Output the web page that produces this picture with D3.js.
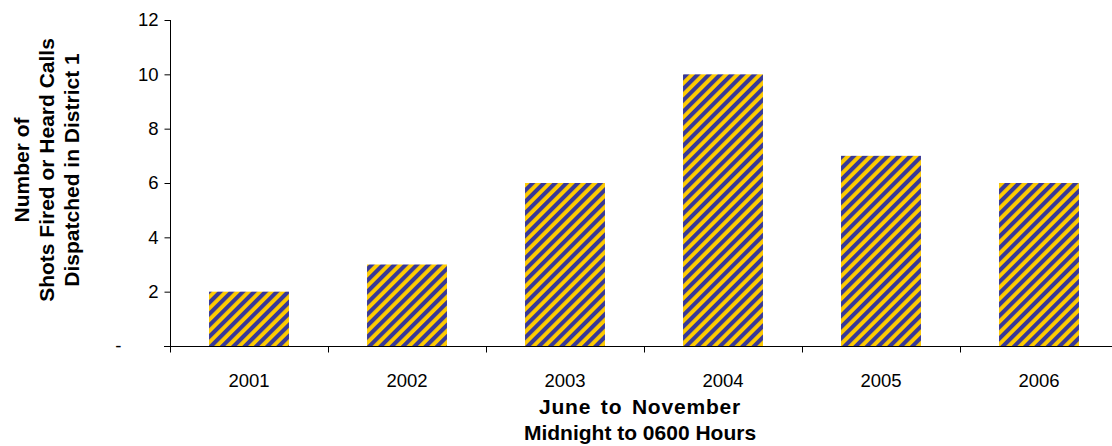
<!DOCTYPE html>
<html>
<head>
<meta charset="utf-8">
<script src="https://cdn.jsdelivr.net/npm/d3@7"></script>
<style>
  html, body { margin: 0; padding: 0; background: #fff; }
  svg { display: block; font-family: "Liberation Sans", Arial, sans-serif; }
</style>
</head>
<body>
<svg id="chart" width="1112" height="446"></svg>
<script>
const years = ["2001", "2002", "2003", "2004", "2005", "2006"];
const calls = [2, 3, 6, 10, 7, 6];
const yTicks = [0, 2, 4, 6, 8, 10, 12];
const yTickLabels = ["-", "2", "4", "6", "8", "10", "12"];
const yTitleLines = ["Number of", "Shots Fired or Heard Calls", "Dispatched in District 1"];
const xTitleLines = ["June to November", "Midnight to 0600 Hours"];

(function () {
const svg = d3.select("#chart");
const mLeft = 170, mRight = 1118, mTop = 20, mBottom = 346;

const x = d3.scaleBand().domain(years).range([mLeft, mRight]).paddingInner(0.494).paddingOuter(0.247);
const y = d3.scaleLinear().domain([0, 12]).range([mBottom, mTop]);

// stripe pattern
const defs = svg.append("defs");
const pat = defs.append("pattern")
  .attr("id", "stripes")
  .attr("patternUnits", "userSpaceOnUse")
  .attr("width", 8).attr("height", 8)
  .attr("patternTransform", "rotate(45)");
pat.append("rect").attr("width", 8).attr("height", 8).attr("fill", "#FFCC00");
pat.append("rect").attr("x", 0).attr("width", 4.1).attr("height", 8).attr("fill", "#383898");

// bars
svg.append("g").selectAll("rect").data(years).join("rect")
  .attr("x", d => x(d))
  .attr("y", (d, i) => y(calls[i]))
  .attr("width", x.bandwidth())
  .attr("height", (d, i) => y(0) - y(calls[i]))
  .attr("fill", "url(#stripes)");

// y axis
const yAxis = d3.axisLeft(y).tickValues(yTicks).tickSize(6).tickPadding(6)
  .tickFormat((d, i) => yTickLabels[i]);
const gy = svg.append("g").attr("transform", `translate(${mLeft + 0.5},0)`).call(yAxis);
gy.select(".domain").attr("stroke", "#000").attr("d", `M0,${mTop}V${mBottom}`);
gy.selectAll(".tick line").attr("stroke", "#000");
gy.selectAll(".tick text")
  .attr("font-size", 18.5)
  .attr("fill", "#000")
  .attr("font-family", "'Liberation Sans', Arial, sans-serif")
  .attr("x", d => d === 0 ? -49 : -12);

// x axis
const boundaries = d3.range(years.length + 1).map(i => mLeft + i * x.step());
const gx = svg.append("g").attr("transform", `translate(0,${mBottom + 0.5})`);
gx.append("line").attr("x1", mLeft - 6).attr("x2", 1112).attr("stroke", "#000");
gx.selectAll(".bt").data(boundaries).join("line").attr("class", "bt")
  .attr("x1", d => Math.round(d) + 0.5).attr("x2", d => Math.round(d) + 0.5)
  .attr("y1", 0).attr("y2", 6).attr("stroke", "#000");
const xAxis = d3.axisBottom(x).tickSize(0).tickPadding(0);
const gxl = svg.append("g").attr("transform", `translate(0,${mBottom})`).call(xAxis);
gxl.select(".domain").remove();
gxl.selectAll(".tick text")
  .attr("font-size", 18.5)
  .attr("fill", "#000")
  .attr("font-family", "'Liberation Sans', Arial, sans-serif")
  .attr("dy", null)
  .attr("y", 41);

// x title
const cx = (mLeft + mRight) / 2 - 4;
svg.append("g").selectAll("text").data(xTitleLines).join("text")
  .attr("x", cx)
  .attr("y", (d, i) => 414 + i * 26)
  .attr("text-anchor", "middle")
  .attr("font-weight", "bold")
  .attr("font-size", 21)
  .attr("word-spacing", (d, i) => i === 0 ? 3 : 0)
  .attr("letter-spacing", (d, i) => i === 0 ? 0.8 : 0)
  .text(d => d);

// y title
svg.append("g").selectAll("text").data(yTitleLines).join("text")
  .attr("transform", (d, i) => `translate(${29 + i * 25},170) rotate(-90)`)
  .attr("text-anchor", "middle")
  .attr("font-weight", "bold")
  .attr("font-size", 21)
  .text(d => d);
})();
</script>
</body>
</html>
